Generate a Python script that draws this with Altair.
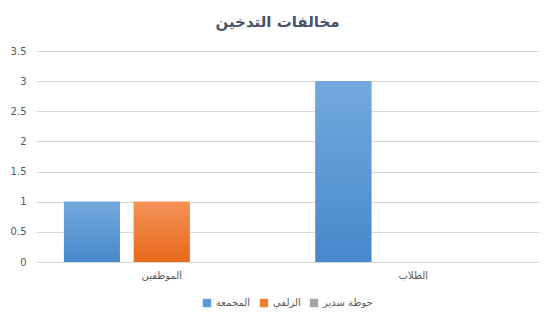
import altair as alt
import pandas as pd

categories = ["الموظفين", "الطلاب"]
series = ["المجمعة", "الزلفي", "حوطة سدير"]
values = {
    "المجمعة": [1, 3],
    "الزلفي": [1, 0],
    "حوطة سدير": [0, 0],
}
colors = ["#5b9bd5", "#ed7d31", "#a5a5a5"]
gradients = [("#73a9de", "#4688cb"), ("#f39257", "#e8691b"), ("#bdbdbd", "#999999")]

rows = []
for s in series:
    for c, v in zip(categories, values[s]):
        rows.append({"category": c, "series": s, "value": v})
df = pd.DataFrame(rows)

FONT = "DejaVu Sans"

x = alt.X("category:N", sort=categories, title=None,
          scale=alt.Scale(paddingInner=0, paddingOuter=0),
          axis=alt.Axis(labelAngle=0, ticks=False, domainColor="#d9d9d9",
                        labelColor="#595959", labelFontSize=10, labelPadding=8,
                        labelFont=FONT))
xo = alt.XOffset("series:N", sort=series,
                 scale=alt.Scale(domain=series, paddingInner=0.2, paddingOuter=0.4))
y = alt.Y("value:Q", title=None,
          scale=alt.Scale(domain=[0, 3.5], nice=False),
          axis=alt.Axis(values=[0, 0.5, 1, 1.5, 2, 2.5, 3, 3.5], format="~g",
                        ticks=False, domain=False, gridColor="#d9d9d9",
                        labelColor="#595959", labelFontSize=10, labelPadding=10,
                        labelFont=FONT))

base = alt.Chart(df).mark_bar().encode(
    x=x, xOffset=xo, y=y,
    color=alt.Color("series:N", sort=series,
                    scale=alt.Scale(domain=series, range=colors),
                    legend=alt.Legend(title=None, orient="none", direction="horizontal",
                                      legendX=166, legendY=247, symbolType="square",
                                      symbolSize=70, labelFontSize=10, labelColor="#595959",
                                      labelFont=FONT, columnPadding=8, symbolStrokeWidth=0)),
)

layers = [base]
for s, (top, bottom) in zip(series, gradients):
    grad = alt.Gradient(gradient="linear", x1=0, x2=0, y1=0, y2=1,
                        stops=[alt.GradientStop(color=top, offset=0),
                               alt.GradientStop(color=bottom, offset=1)])
    layers.append(
        alt.Chart(df).transform_filter(alt.datum.series == s)
        .mark_bar(fill=grad).encode(x=x, xOffset=xo, y=y)
    )

chart = alt.layer(*layers).properties(
    width=503, height=211,
    title=alt.TitleParams("مخالفات التدخين", fontSize=15, fontWeight="bold",
                          color="#44546a", font=FONT, offset=16, dx=-10),
    padding={"left": 28, "top": 43, "right": 8, "bottom": 52},
    autosize=alt.AutoSizeParams(type="none"),
).configure_view(stroke=None)

chart.save("out.html", embed_options={"renderer": "svg", "actions": False})
